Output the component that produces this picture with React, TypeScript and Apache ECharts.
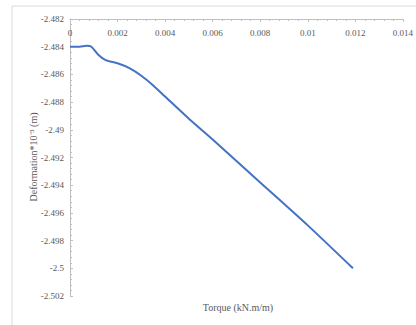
import React, { useEffect, useRef } from "react";
import * as echarts from "echarts";

const torque = [0, 0.0004, 0.0007, 0.0009, 0.0012, 0.0015, 0.002, 0.0025, 0.003, 0.0035, 0.004, 0.005, 0.006, 0.008, 0.01, 0.0119];
const deformation = [-2.484, -2.484, -2.48394, -2.484, -2.4846, -2.48497, -2.4852, -2.48555, -2.4861, -2.4868, -2.4876, -2.4892, -2.4907, -2.4938, -2.4969, -2.5];

const xTitle = "Torque (kN.m/m)";
const yTitle = "Deformation*10\u207B\u00B3 (m)";

const FONT = "Liberation Serif";
const GRAY = "#595959";

export default function App() {
  const ref = useRef<HTMLDivElement>(null);
  useEffect(() => {
    if (!ref.current) return;
    const chart = echarts.init(ref.current, undefined, { renderer: "svg" });
    const fmt = (v: number) => String(parseFloat(v.toFixed(4)));
    chart.setOption({
      animation: false,
      backgroundColor: "#ffffff",
      grid: { left: 70, top: 19, right: 11, bottom: 29 },
      xAxis: {
        type: "value",
        position: "top",
        min: 0,
        max: 0.014,
        interval: 0.002,
        axisLine: { onZero: false, lineStyle: { color: "#bfbfbf", width: 1 } },
        axisTick: { show: true, inside: true, length: 3, lineStyle: { color: "#bfbfbf" } },
        minorTick: { show: true, splitNumber: 5, length: 2, lineStyle: { color: "#bfbfbf" } },
        splitLine: { show: false },
        axisLabel: { inside: true, margin: 9, color: GRAY, fontFamily: FONT, fontSize: 9, formatter: fmt },
      },
      yAxis: {
        type: "value",
        min: -2.502,
        max: -2.482,
        interval: 0.002,
        axisLine: { show: true, onZero: false, lineStyle: { color: "#bfbfbf", width: 1 } },
        axisTick: { show: true, inside: true, length: 3, lineStyle: { color: "#bfbfbf" } },
        minorTick: { show: true, splitNumber: 5, length: 2, lineStyle: { color: "#bfbfbf" } },
        splitLine: { show: false },
        axisLabel: { margin: 6, color: GRAY, fontFamily: FONT, fontSize: 9, formatter: fmt },
      },
      series: [
        {
          type: "line",
          data: torque.map((t, i) => [t, deformation[i]]),
          showSymbol: false,
          smooth: 0.25,
          lineStyle: { color: "#4472C4", width: 2 },
        },
      ],
      graphic: [
        {
          type: "rect",
          shape: { x: 12, y: 6, width: 430, height: 340 },
          style: { fill: "none", stroke: "#d9d9d9", lineWidth: 1 },
          silent: true,
        },
        {
          type: "text",
          x: 238,
          y: 307,
          style: { text: xTitle, fill: GRAY, font: `10px "${FONT}"`, textAlign: "center", textVerticalAlign: "middle" },
        },
        {
          type: "text",
          x: 33,
          y: 157,
          rotation: Math.PI / 2,
          style: { text: yTitle, fill: GRAY, font: `10px "${FONT}"`, textAlign: "center", textVerticalAlign: "middle" },
        },
      ],
    });
    return () => chart.dispose();
  }, []);
  return <div ref={ref} style={{ position: "fixed", left: 0, top: 0, width: 416, height: 325 }} />;
}
